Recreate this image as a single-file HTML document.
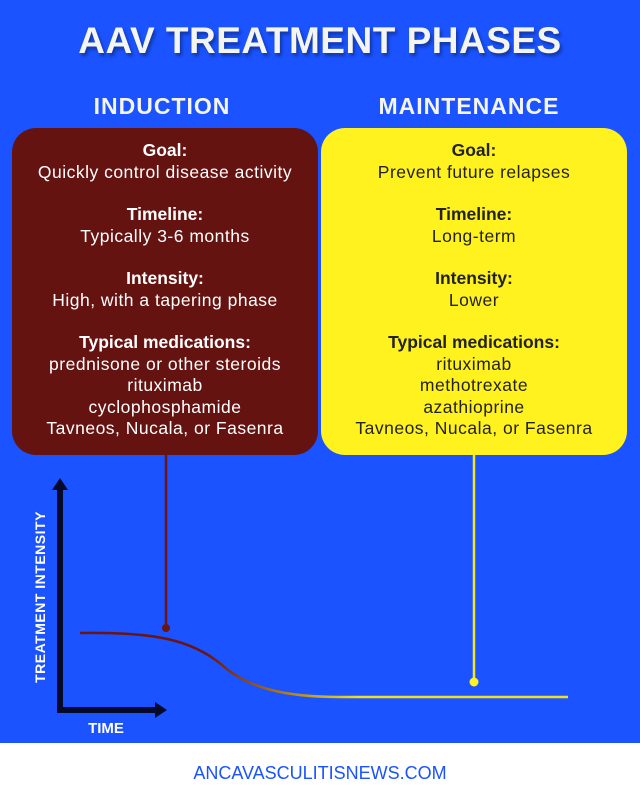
<!DOCTYPE html>
<html><head><style>
body{margin:0;width:640px;height:800px;background:#fff;font-family:"Liberation Sans",sans-serif;position:relative;overflow:hidden}
.bg{position:absolute;left:0;top:0;width:640px;height:743px;background:#1a53ff}
.t{position:absolute;width:640px;text-align:center;color:#f5f5f0;font-weight:900}
.box{position:absolute;top:128px;height:327px;width:306px;border-radius:24px;text-align:center;font-size:17.5px;letter-spacing:0.5px;line-height:21.5px;box-sizing:border-box;white-space:nowrap}
.box div{margin-bottom:21px}
b{font-weight:bold;letter-spacing:0}
</style></head><body>
<div class="bg"></div>
<div class="t" style="top:20px;font-size:37px;letter-spacing:0.5px;text-shadow:2px 3px 3px rgba(0,0,0,.35)">AAV TREATMENT PHASES</div>
<div class="t" style="top:93px;font-size:23px;width:324px;left:0;letter-spacing:1px">INDUCTION</div>
<div class="t" style="top:93px;font-size:23px;width:320px;left:309px;letter-spacing:1px">MAINTENANCE</div>
<div class="box" style="left:12px;background:#641311;color:#fff;padding-top:12px">
<div><b>Goal:</b><br>Quickly control disease activity</div>
<div><b>Timeline:</b><br>Typically 3-6 months</div>
<div><b>Intensity:</b><br>High, with a tapering phase</div>
<div><b>Typical medications:</b><br>prednisone or other steroids<br>rituximab<br>cyclophosphamide<br>Tavneos, Nucala, or Fasenra</div>
</div>
<div class="box" style="left:321px;background:#fff21f;color:#222;padding-top:12px">
<div><b>Goal:</b><br>Prevent future relapses</div>
<div><b>Timeline:</b><br>Long-term</div>
<div><b>Intensity:</b><br>Lower</div>
<div><b>Typical medications:</b><br>rituximab<br>methotrexate<br>azathioprine<br>Tavneos, Nucala, or Fasenra</div>
</div>
<svg width="640" height="800" style="position:absolute;left:0;top:0">
<defs><linearGradient id="g" x1="80" x2="360" y1="0" y2="0" gradientUnits="userSpaceOnUse"><stop offset="0.45" stop-color="#6b1410"/><stop offset="1" stop-color="#f0e020"/></linearGradient></defs>
<line x1="166" y1="455" x2="166" y2="627" stroke="#6b1410" stroke-width="2.5"/>
<circle cx="166" cy="628" r="4" fill="#6b1410"/>
<line x1="474" y1="455" x2="474" y2="681" stroke="#f5e61e" stroke-width="2.5"/>
<circle cx="474" cy="682" r="4.5" fill="#fff21f"/>
<path d="M80 633 C150 632 190 638 222 665 C250 690 290 697 340 697 L568 697" fill="none" stroke="url(#g)" stroke-width="2.5"/>
<line x1="60" y1="484" x2="60" y2="712" stroke="#050a2a" stroke-width="6"/>
<polygon points="60,478 52,490 68,490" fill="#050a2a"/>
<line x1="57" y1="710" x2="160" y2="710" stroke="#050a2a" stroke-width="6"/>
<polygon points="167,710 155,702 155,718" fill="#050a2a"/>
<text x="45" y="597" transform="rotate(-90 45 597)" text-anchor="middle" font-family="Liberation Sans" font-weight="900" font-size="14" fill="#fff" letter-spacing="0.5">TREATMENT INTENSITY</text>
<text x="106" y="733" text-anchor="middle" font-family="Liberation Sans" font-weight="900" font-size="15" fill="#fff">TIME</text>
<text x="320" y="779" text-anchor="middle" font-family="Liberation Sans" font-size="18" fill="#1a53ff">ANCAVASCULITISNEWS.COM</text>
</svg>
</body></html>
